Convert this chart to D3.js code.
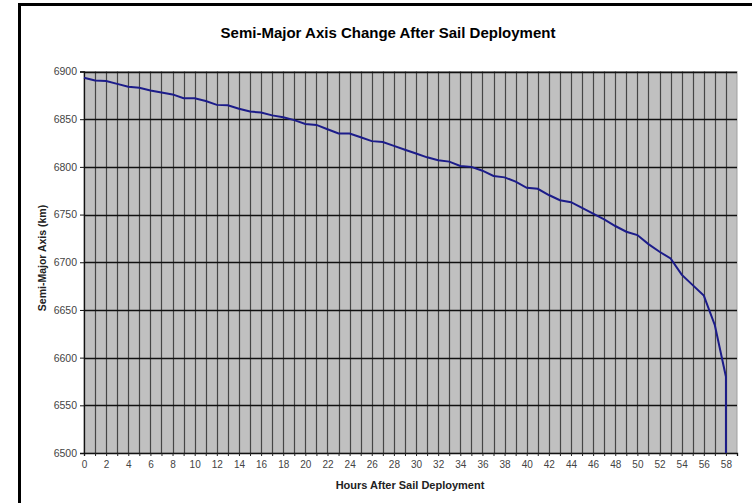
<!DOCTYPE html>
<html>
<head>
<meta charset="utf-8">
<script src="https://cdn.jsdelivr.net/npm/d3@7"></script>
<style>
  body { margin: 0; background: #fff; }
  text { font-family: "Liberation Sans", Arial, sans-serif; }
</style>
</head>
<body>
<div id="chart"></div>
<script>
// hours after deployment and semi-major axis (km)
const hours = [0, 1, 2, 3, 4, 5, 6, 7, 8, 9, 10, 11, 12, 13, 14, 15, 16, 17, 18, 19,
    20, 21, 22, 23, 24, 25, 26, 27, 28, 29, 30, 31, 32, 33, 34, 35, 36, 37, 38, 39,
    40, 41, 42, 43, 44, 45, 46, 47, 48, 49, 50, 51, 52, 53, 54, 55, 56, 57, 58, 58];
const semiMajor = [6893.5, 6890.5, 6890, 6887, 6884, 6883, 6880, 6878, 6876, 6872,
    6872, 6869, 6865, 6864.5, 6861, 6858, 6857, 6854, 6852, 6849,
    6845, 6844, 6839.5, 6835, 6835, 6831, 6827, 6826, 6822, 6818,
    6814, 6810, 6807, 6805.5, 6801, 6800, 6796, 6790.5, 6789, 6784.5,
    6778, 6777, 6770.5, 6765, 6763, 6757, 6751, 6745, 6738, 6732,
    6728.5, 6719, 6711, 6704, 6687, 6676, 6665, 6634, 6580, 6490];
const yTicks = [6500, 6550, 6600, 6650, 6700, 6750, 6800, 6850, 6900];
const xLabels = d3.range(0, 59, 2);

const width = 752, height = 503;
const margin = {top: 71.5, right: 15, bottom: 50, left: 84};

const svg = d3.select("#chart")
    .append("svg")
    .attr("width", width)
    .attr("height", height);

// outer frame (only top and left edges show)
svg.append("rect")
    .attr("x", 19.5)
    .attr("y", 4.5)
    .attr("width", 760)
    .attr("height", 520)
    .attr("fill", "white")
    .attr("stroke", "black")
    .attr("stroke-width", 3);

const xScale = d3.scaleLinear()
    .domain([0, 59])
    .range([margin.left, 737]);

const yScale = d3.scaleLinear()
    .domain([6500, 6900])
    .range([453, margin.top]);

// plot background
svg.append("rect")
    .attr("x", xScale(0))
    .attr("y", yScale(6900))
    .attr("width", xScale(59) - xScale(0))
    .attr("height", yScale(6500) - yScale(6900))
    .attr("fill", "#c0c0c0")
    .attr("stroke", "#a0a0a0")
    .attr("stroke-width", 1);

// vertical grid, one line per hour
svg.append("g")
    .selectAll("line")
    .data(d3.range(1, 59))
    .join("line")
    .attr("x1", d => Math.round(xScale(d)) + 0.5)
    .attr("x2", d => Math.round(xScale(d)) + 0.5)
    .attr("y1", yScale(6900))
    .attr("y2", yScale(6500))
    .attr("stroke", "#454545")
    .attr("stroke-width", 1.2);

// horizontal grid
svg.append("g")
    .selectAll("line")
    .data(yTicks.slice(1))
    .join("line")
    .attr("x1", xScale(0))
    .attr("x2", xScale(59))
    .attr("y1", d => Math.round(yScale(d)) + 0.5)
    .attr("y2", d => Math.round(yScale(d)) + 0.5)
    .attr("stroke", "#111")
    .attr("stroke-width", 1.3);

// axes
const xAxis = d3.axisBottom(xScale)
    .tickValues(d3.range(0, 59))
    .tickSize(3)
    .tickFormat(d => xLabels.includes(d) ? d : "");

svg.append("g")
    .attr("transform", `translate(0, ${yScale(6500)})`)
    .call(xAxis)
    .call(g => g.select(".domain").attr("stroke", "#111").attr("stroke-width", 1.3))
    .call(g => g.selectAll(".tick line").attr("stroke", "#222"))
    .call(g => g.selectAll(".tick text")
        .attr("y", 8)
        .style("font-size", "10px")
        .attr("fill", "#444"));

const yAxis = d3.axisLeft(yScale)
    .tickValues(yTicks)
    .tickSize(4)
    .tickFormat(d3.format("d"));

svg.append("g")
    .attr("transform", `translate(${xScale(0)}, 0)`)
    .call(yAxis)
    .call(g => g.select(".domain").attr("stroke", "#111").attr("stroke-width", 1.3))
    .call(g => g.selectAll(".tick line").attr("stroke", "#111"))
    .call(g => g.selectAll(".tick text")
        .attr("x", -7)
        .style("font-size", "10.5px")
        .attr("fill", "#444"));

// the data line
const line = d3.line()
    .x((d, i) => xScale(hours[i]))
    .y(d => yScale(Math.max(d, 6500)));

svg.append("path")
    .datum(semiMajor)
    .attr("d", line)
    .attr("fill", "none")
    .attr("stroke", "#1c1c8a")
    .attr("stroke-width", 2);

// titles
svg.append("text")
    .attr("x", 388)
    .attr("y", 38)
    .style("text-anchor", "middle")
    .style("font-size", "15px")
    .style("font-weight", "bold")
    .text("Semi-Major Axis Change After Sail Deployment");

svg.append("text")
    .attr("x", 410)
    .attr("y", 489)
    .style("text-anchor", "middle")
    .style("font-size", "11px")
    .style("font-weight", "bold")
    .attr("fill", "#222")
    .text("Hours After Sail Deployment");

svg.append("text")
    .attr("transform", "rotate(-90)")
    .attr("x", -258)
    .attr("y", 46)
    .style("text-anchor", "middle")
    .style("font-size", "10.5px")
    .style("font-weight", "bold")
    .attr("fill", "#222")
    .text("Semi-Major Axis (km)");
</script>
</body>
</html>
